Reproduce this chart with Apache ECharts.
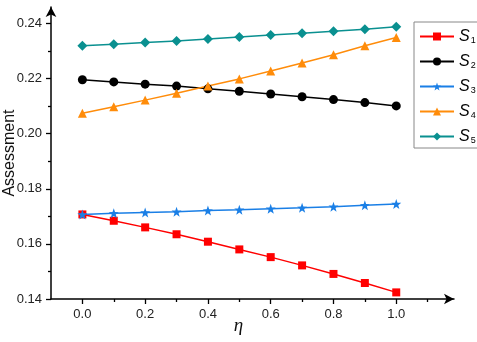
<!DOCTYPE html>
<html>
<head>
<meta charset="utf-8">
<script src="https://cdn.jsdelivr.net/npm/echarts@6/dist/echarts.min.js"></script>
<style>
html,body{margin:0;padding:0;background:#fff;}
#chart{width:477px;height:342px;}
</style>
</head>
<body>
<div id="chart"></div>
<script>
// ---- data ----
const etas = [0.0, 0.1, 0.2, 0.3, 0.4, 0.5, 0.6, 0.7, 0.8, 0.9, 1.0];
const seriesNames = ['S1', 'S2', 'S3', 'S4', 'S5'];
const s1 = [0.1707, 0.1684, 0.1660, 0.1635, 0.1608, 0.1580, 0.1552, 0.1522, 0.1491, 0.1458, 0.1424];
const s2 = [0.2196, 0.2188, 0.2180, 0.2173, 0.2163, 0.2154, 0.2144, 0.2134, 0.2124, 0.2113, 0.2101];
const s3 = [0.1707, 0.1711, 0.1714, 0.1717, 0.1721, 0.1724, 0.1728, 0.1731, 0.1735, 0.1740, 0.1745];
const s4 = [0.2074, 0.2098, 0.2122, 0.2147, 0.2173, 0.2199, 0.2228, 0.2257, 0.2287, 0.2319, 0.2349];
const s5 = [0.2319, 0.2325, 0.2331, 0.2337, 0.2344, 0.2351, 0.2358, 0.2365, 0.2372, 0.2379, 0.2388];
const yMajorTicks = [0.14, 0.16, 0.18, 0.20, 0.22, 0.24];
const yMinorTicks = [0.15, 0.17, 0.19, 0.21, 0.23];
const xMajorTicks = [0.0, 0.2, 0.4, 0.6, 0.8, 1.0];
const xMinorTicks = [0.1, 0.3, 0.5, 0.7, 0.9, 1.1];

const allValues = [s1, s2, s3, s4, s5];
const colors = ['#ff0000', '#000000', '#1a7fe6', '#ff8c0a', '#0a9090'];
const STAR = 'path://M0,-10 L2.35,-3.24 L9.51,-3.09 L3.8,1.24 L5.88,8.09 L0,4 L-5.88,8.09 L-3.8,1.24 L-9.51,-3.09 L-2.35,-3.24 Z';
const DIAMOND = 'path://M0,-1 L1,0 L0,1 L-1,0 Z';
const symbols = ['rect', 'circle', STAR, 'triangle', DIAMOND];
const symbolSizes = [8, 9, 10, 9, 10];

const font = 'Liberation Sans, Arial, sans-serif';

const chart = echarts.init(document.getElementById('chart'), null, {renderer: 'canvas'});

const series = seriesNames.map((name, i) => ({
  name: name,
  type: 'line',
  xAxisIndex: 0,
  yAxisIndex: 0,
  data: etas.map((e, k) => [e, allValues[i][k]]),
  symbol: symbols[i],
  symbolSize: symbolSizes[i],
  showAllSymbol: true,
  color: colors[i],
  lineStyle: {width: 1.5, color: colors[i]},
  itemStyle: {color: colors[i]},
  emphasis: {disabled: true},
  animation: false
}));

const option = {
  animation: false,
  backgroundColor: '#fff',
  grid: {left: 51, right: 23, top: 7, bottom: 43, containLabel: false, outerBoundsMode: 'none'},
  legend: {
    orient: 'vertical',
    left: 414,
    top: 22,
    padding: [7, 2, 3, 5],
    itemWidth: 34,
    itemHeight: 10,
    itemGap: 9,
    borderColor: '#888',
    borderWidth: 1,
    data: seriesNames,
    formatter: function (n) { return '{s|S}{n|' + n.slice(1) + '}'; },
    textStyle: {
      color: '#000',
      rich: {
        s: {fontSize: 16, fontStyle: 'italic', fontFamily: font, lineHeight: 17, color: '#000', verticalAlign: 'bottom'},
        n: {fontSize: 9, fontFamily: font, lineHeight: 17, color: '#000', verticalAlign: 'bottom', padding: [0, 0, 0, 1]}
      }
    }
  },
  xAxis: [
    {
      type: 'value',
      position: 'bottom',
      min: -0.1,
      max: 1.184,
      name: 'η',
      nameLocation: 'middle',
      nameGap: 17,
      nameMoveOverlap: false,
      nameTextStyle: {fontFamily: 'Liberation Serif, Times New Roman, serif', fontStyle: 'italic', fontSize: 19, color: '#111', padding: [0, 28, 0, 0]},
      axisLine: {show: true, lineStyle: {color: '#000', width: 1.5}, symbol: ['none', 'arrow'], symbolSize: [8, 10]},
      axisTick: {show: true, inside: false, length: 5, lineStyle: {color: '#000', width: 1.3}, customValues: xMajorTicks},
      axisLabel: {show: true, margin: 9, fontSize: 13, fontFamily: font, color: '#222', customValues: xMajorTicks, formatter: v => v.toFixed(1)},
      splitLine: {show: false}
    },
    {
      type: 'value',
      position: 'bottom',
      min: -0.1,
      max: 1.184,
      axisLine: {show: false},
      axisTick: {show: true, inside: false, length: 3, lineStyle: {color: '#000', width: 1.3}, customValues: xMinorTicks},
      axisLabel: {show: false},
      splitLine: {show: false}
    },
    {
      // helper axis that does not cross zero, so the y axes stay at the left edge
      type: 'value',
      position: 'top',
      show: false,
      min: 1,
      max: 2
    }
  ],
  yAxis: [
    {
      type: 'value',
      position: 'left',
      min: 0.14,
      max: 0.246,
      name: 'Assessment',
      nameLocation: 'middle',
      nameRotate: 90,
      nameGap: 33,
      nameMoveOverlap: false,
      nameTextStyle: {fontFamily: font, fontSize: 16, color: '#111'},
      axisLine: {show: true, onZero: true, onZeroAxisIndex: 2, lineStyle: {color: '#000', width: 1.5}, symbol: ['none', 'arrow'], symbolSize: [8, 10]},
      axisTick: {show: true, inside: false, length: 5, lineStyle: {color: '#000', width: 1.3}, customValues: yMajorTicks},
      axisLabel: {show: true, margin: 9, fontSize: 13, fontFamily: font, color: '#222', customValues: yMajorTicks, formatter: v => v.toFixed(2)},
      splitLine: {show: false}
    },
    {
      type: 'value',
      position: 'left',
      min: 0.14,
      max: 0.246,
      axisLine: {show: false, onZero: true, onZeroAxisIndex: 2},
      axisTick: {show: true, inside: false, length: 3, lineStyle: {color: '#000', width: 1.3}, customValues: yMinorTicks},
      axisLabel: {show: false},
      splitLine: {show: false}
    }
  ],
  series: series
};

chart.setOption(option);
</script>
</body>
</html>
